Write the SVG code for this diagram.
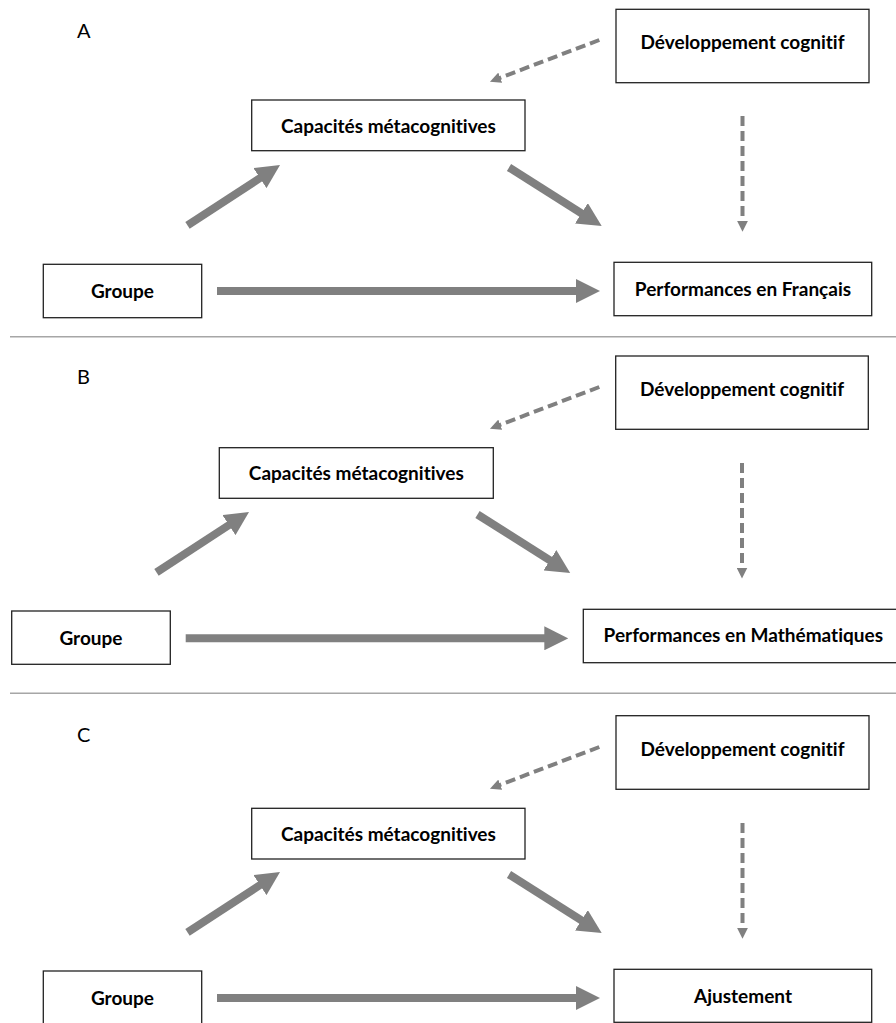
<svg xmlns="http://www.w3.org/2000/svg" width="896" height="1023" viewBox="0 0 896 1023">
<defs>
<style>
.box{fill:#fff;stroke:#222;stroke-width:1.3}
.t{font-family:Lato,"Liberation Sans",sans-serif;font-weight:bold;font-size:19px;fill:#000;text-anchor:middle;font-variant-ligatures:none;font-feature-settings:"liga" 0,"dlig" 0}
.lbl{font-family:Lato,"Liberation Sans",sans-serif;font-size:20px;fill:#000}
.solid{stroke:#808080;stroke-width:8;fill:none;marker-end:url(#big)}
.dash{stroke:#808080;stroke-width:4;fill:none;stroke-dasharray:10 5;marker-end:url(#small)}
.sep{stroke:#a6a6a6;stroke-width:1.5}
</style>
<marker id="big" markerUnits="userSpaceOnUse" viewBox="0 0 24 24" markerWidth="24" markerHeight="24" refX="2" refY="12" orient="auto"><path d="M0,0 L24,12 L0,24 z" fill="#808080"/></marker>
<marker id="small" markerUnits="userSpaceOnUse" viewBox="0 0 11 11" markerWidth="11" markerHeight="11" refX="1" refY="5.5" orient="auto"><path d="M0,0 L11,5.5 L0,11 z" fill="#808080"/></marker>
</defs>
<rect width="896" height="1023" fill="#fff"/>
<g id="separators">
<line class="sep" x1="10" y1="336.7" x2="896" y2="336.7"/>
<line class="sep" x1="10" y1="693.3" x2="896" y2="693.3"/>
</g>
<g id="labels">
<text class="lbl" x="77" y="38">A</text>
<text class="lbl" x="77" y="384">B</text>
<text class="lbl" x="77" y="742">C</text>
</g>
<g id="connectors">
<!-- A -->
<line class="solid" x1="217" y1="291" x2="578" y2="291"/>
<line class="solid" x1="187.5" y1="225.3" x2="261.6" y2="177"/>
<line class="solid" x1="509" y1="167.5" x2="583.1" y2="214.3"/>
<line class="dash" x1="599.3" y1="40" x2="499.3" y2="78.1"/>
<line class="dash" x1="742.5" y1="116" x2="742.5" y2="221.7"/>
<!-- B -->
<line class="solid" x1="185.7" y1="638.3" x2="546.3" y2="638.3"/>
<line class="solid" x1="156.5" y1="572.3" x2="230.6" y2="524"/>
<line class="solid" x1="477.5" y1="514.5" x2="551.6" y2="561.3"/>
<line class="dash" x1="599.3" y1="387" x2="499.3" y2="425.1"/>
<line class="dash" x1="742" y1="463" x2="742" y2="568.5"/>
<!-- C -->
<line class="solid" x1="217" y1="998" x2="578" y2="998"/>
<line class="solid" x1="187.5" y1="932.3" x2="261.6" y2="884"/>
<line class="solid" x1="509" y1="874.5" x2="583.1" y2="921.3"/>
<line class="dash" x1="599.3" y1="747" x2="499.3" y2="785.1"/>
<line class="dash" x1="742.5" y1="823" x2="742.5" y2="928.7"/>
</g>
<g id="A-dev"><rect class="box" x="616" y="9.3" width="253" height="73.4"/><text class="t" x="742.5" y="49">Développement cognitif</text></g>
<g id="A-cap"><rect class="box" x="251.7" y="100" width="273.3" height="50.7"/><text class="t" x="388.4" y="132.5">Capacités métacognitives</text></g>
<g id="A-groupe"><rect class="box" x="43.3" y="264.3" width="158.4" height="53.4"/><text class="t" x="122.5" y="297.5">Groupe</text></g>
<g id="A-perf"><rect class="box" x="614" y="262.3" width="257.7" height="53.4"/><text class="t" x="743" y="296">Performances en Français</text></g>
<g id="B-dev"><rect class="box" x="615.7" y="356" width="252.6" height="73.3"/><text class="t" x="742" y="396">Développement cognitif</text></g>
<g id="B-cap"><rect class="box" x="219.3" y="447.7" width="274" height="50.6"/><text class="t" x="356.3" y="480">Capacités métacognitives</text></g>
<g id="B-groupe"><rect class="box" x="11.7" y="611" width="158.6" height="53.3"/><text class="t" x="91" y="645">Groupe</text></g>
<g id="B-perf"><rect class="box" x="583.3" y="609.3" width="320" height="53.4"/><text class="t" x="743.3" y="641.7">Performances en Mathématiques</text></g>
<g id="C-dev"><rect class="box" x="616" y="715.7" width="253" height="73.6"/><text class="t" x="742.5" y="756">Développement cognitif</text></g>
<g id="C-cap"><rect class="box" x="251.7" y="808.3" width="273.3" height="50.7"/><text class="t" x="388.4" y="840.7">Capacités métacognitives</text></g>
<g id="C-groupe"><rect class="box" x="43.3" y="971" width="158.4" height="60"/><text class="t" x="122.5" y="1005">Groupe</text></g>
<g id="C-ajust"><rect class="box" x="614" y="969.3" width="257.7" height="53"/><text class="t" x="743" y="1003.3">Ajustement</text></g>
</svg>
